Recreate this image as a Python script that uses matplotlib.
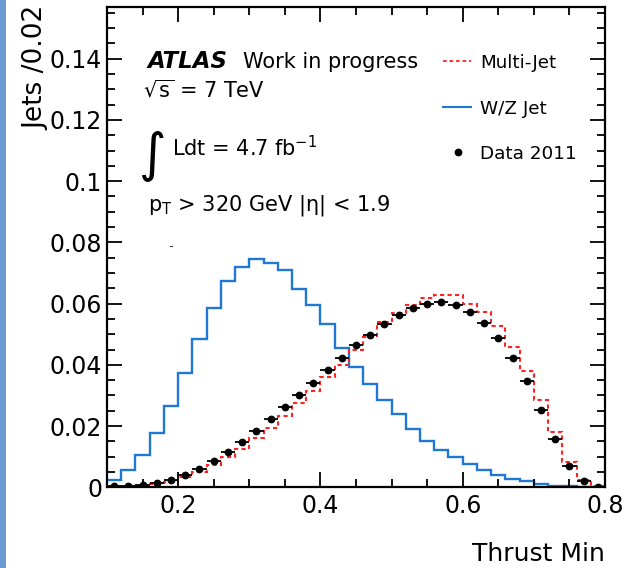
import numpy as np
import matplotlib
matplotlib.use("Agg")
import matplotlib.pyplot as plt
from matplotlib.patches import Rectangle
from matplotlib.lines import Line2D
from matplotlib.ticker import FixedLocator, MultipleLocator

# ---------------- data ----------------
bin_edges = np.linspace(0.10, 0.80, 36)          # 35 bins of width 0.02
bin_centers = 0.5 * (bin_edges[:-1] + bin_edges[1:])

wz_jet = [0.0024, 0.0055, 0.0105, 0.0177, 0.0267, 0.0375, 0.0483, 0.0586, 0.0673,
          0.0719, 0.0747, 0.0733, 0.0709, 0.0649, 0.0597, 0.0534, 0.0454, 0.0394,
          0.0336, 0.0284, 0.0238, 0.0191, 0.0152, 0.0122, 0.0100, 0.0076, 0.0056,
          0.0039, 0.0027, 0.0019, 0.0011, 0.0005, 0.0003, 0.0001, 0.0000]

multi_jet = [0.0001, 0.0002, 0.0005, 0.0010, 0.0018, 0.0034, 0.0050, 0.0073, 0.0099,
             0.0126, 0.0160, 0.0195, 0.0234, 0.0274, 0.0313, 0.0359, 0.0400, 0.0450,
             0.0491, 0.0539, 0.0570, 0.0597, 0.0619, 0.0627, 0.0627, 0.0600, 0.0572,
             0.0526, 0.0458, 0.0379, 0.0284, 0.0180, 0.0083, 0.0024, 0.0004]

data_2011 = [0.0003, 0.0005, 0.0008, 0.0015, 0.0025, 0.0039, 0.0061, 0.0087, 0.0116,
             0.0148, 0.0184, 0.0223, 0.0263, 0.0302, 0.0340, 0.0382, 0.0423, 0.0464,
             0.0499, 0.0535, 0.0563, 0.0586, 0.0600, 0.0605, 0.0595, 0.0572, 0.0537,
             0.0488, 0.0421, 0.0346, 0.0253, 0.0157, 0.0071, 0.0020, 0.0002]

x_ticks = [0.2, 0.4, 0.6, 0.8]
x_tick_labels = ["0.2", "0.4", "0.6", "0.8"]
y_ticks = [0, 0.02, 0.04, 0.06, 0.08, 0.10, 0.12, 0.14]
y_tick_labels = ["0", "0.02", "0.04", "0.06", "0.08", "0.1", "0.12", "0.14"]

# ---------------- figure ----------------
W, H = 641, 568
fig = plt.figure(figsize=(W / 100, H / 100), dpi=100)
plt.rcParams["font.family"] = ["DejaVu Sans"]

def fx(px):
    return px / W

def fy(py):
    return 1 - py / H

ax_l, ax_r, ax_t, ax_b = 107, 605, 6.7, 487.3
ax = fig.add_axes([fx(ax_l), fy(ax_b), (ax_r - ax_l) / W, (ax_b - ax_t) / H])

blue = "#1f78d6"
red = "#ff2222"

ax.stairs(wz_jet, bin_edges, baseline=None, color=blue, lw=1.7)
ax.stairs(multi_jet, bin_edges, baseline=None, color=red, lw=1.5,
          linestyle=(0, (2.0, 1.6)))
ax.errorbar(bin_centers, data_2011, xerr=0.01, fmt="o", color="black",
            ms=4.6, elinewidth=1.3, capsize=0)

ax.set_xlim(0.10, 0.80)
ax.set_ylim(0, 0.157)

ax.xaxis.set_major_locator(FixedLocator(x_ticks))
ax.set_xticklabels(x_tick_labels)
ax.xaxis.set_minor_locator(MultipleLocator(0.05))
ax.yaxis.set_major_locator(FixedLocator(y_ticks))
ax.set_yticklabels(y_tick_labels)
ax.yaxis.set_minor_locator(MultipleLocator(0.005))

ax.tick_params(which="both", direction="in", top=True, right=True, width=1.3,
               labelsize=17)
ax.tick_params(which="major", length=11)
ax.tick_params(which="minor", length=5.5)
ax.tick_params(axis="y", pad=3.5)
ax.tick_params(axis="x", pad=5)
for s in ax.spines.values():
    s.set_linewidth(1.6)

# axis titles
fig.text(fx(36), fy(6), "Jets /0.02", rotation=90, ha="center", va="top", fontsize=19)
fig.text(fx(605), fy(561), "Thrust Min", ha="right", va="baseline", fontsize=18)

# annotations
fs = 15
fig.text(fx(147), fy(68.5), "ATLAS", fontsize=16.5, weight="bold", style="italic",
         va="baseline")
fig.text(fx(243), fy(68.5), "Work in progress", fontsize=fs, va="baseline")
fig.text(fx(143), fy(97.5), r"$\sqrt{\mathrm{s}}$ = 7 TeV", fontsize=fs, va="baseline")
fig.text(fx(139), fy(171), "\u222b", fontsize=38, va="baseline")
fig.text(fx(172), fy(156), r"Ldt = 4.7 fb$^{\mathrm{-1}}$", fontsize=fs, va="baseline")
fig.text(fx(148), fy(210), r"p$_{\mathrm{T}}$ > 320 GeV |η| < 1.9", fontsize=fs,
         va="baseline")

# legend
lfs = 13.2
fig.add_artist(Line2D([fx(443), fx(471)], [fy(61), fy(61)], color=red, lw=1.3,
                      linestyle=(0, (2.0, 1.6))))
fig.text(fx(480), fy(67.7), "Multi-Jet", fontsize=lfs, va="baseline")
fig.add_artist(Line2D([fx(443), fx(471)], [fy(107), fy(107)], color=blue, lw=1.5))
fig.text(fx(480), fy(113.7), "W/Z Jet", fontsize=lfs, va="baseline")
fig.add_artist(Line2D([fx(458)], [fy(152)], marker="o", ms=4.6, color="black", lw=0))
fig.text(fx(480), fy(158.7), "Data 2011", fontsize=lfs, va="baseline")

# left decorative strip and stray pixel
fig.add_artist(Rectangle((0, 0), fx(6), 1, transform=fig.transFigure,
                         facecolor="#6a9bd0", edgecolor="none"))
fig.add_artist(Rectangle((fx(170), fy(247)), fx(2.5), 1.2 / H, transform=fig.transFigure,
                         facecolor="#333333", edgecolor="none"))

fig.savefig("out.png", dpi=100)
